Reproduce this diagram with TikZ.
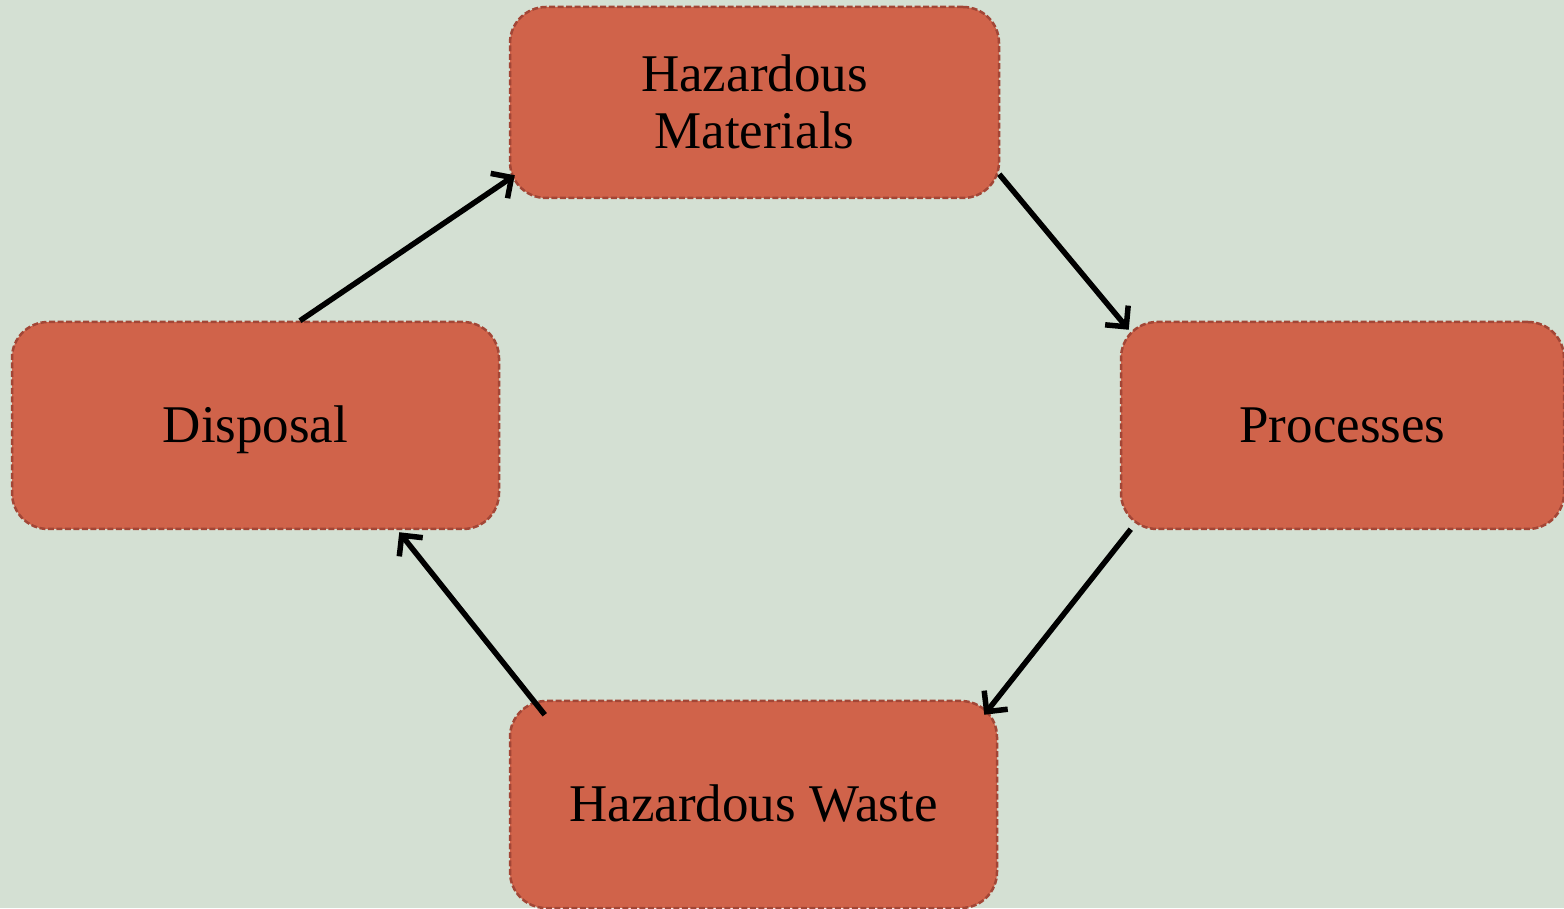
\documentclass[tikz,border=0pt]{standalone}
\usepackage{fontspec}
\setmainfont{Liberation Serif}
\usetikzlibrary{arrows.meta}
\definecolor{bg}{HTML}{D4E0D3}
\definecolor{boxfill}{HTML}{D0634A}
\definecolor{boxline}{HTML}{A24636}
\tikzset{
  box/.style={draw=boxline, fill=boxfill, line width=2.5pt, dash pattern=on 6pt off 2.5pt,
    rounded corners=36pt, align=center, inner sep=0pt,
    text height=35pt, text depth=0pt,
    font=\fontsize{53}{57}\selectfont, text=black},
  flow/.style={line width=5.5pt, -{Straight Barb[length=15pt,width=30pt,line width=5.5pt]}}
}
\begin{document}
\begin{tikzpicture}[x=1pt,y=1pt]
\fill[bg] (0,0) rectangle (1564,908);
\useasboundingbox (0,0) rectangle (1564,908);
\node[box, text height=92pt, minimum width=489pt, minimum height=191pt] (hm) at (754.5,805.5) {Hazardous\\Materials};
\node[box, minimum width=443pt, minimum height=207pt] (pro) at (1342.5,482.5) {Processes};
\node[box, minimum width=487pt, minimum height=207pt] (dis) at (255.5,482.5) {Disposal};
\node[box, minimum width=487pt, minimum height=207pt] (hw) at (753.5,103.5) {Hazardous Waste};
\draw[flow] ([xshift=44.5pt]dis.north) -- ([shift={(6pt,24pt)}]hm.south west);
\draw[flow] ([shift={(-1pt,25pt)}]hm.south east) -- ([shift={(9pt,-9pt)}]pro.north west);
\draw[flow] ([shift={(11pt,1pt)}]pro.south west) -- ([shift={(-14pt,-15pt)}]hw.north east);
\draw[flow] ([shift={(36pt,-15pt)}]hw.north west) -- ([shift={(-101pt,-2pt)}]dis.south east);
\end{tikzpicture}
\end{document}
